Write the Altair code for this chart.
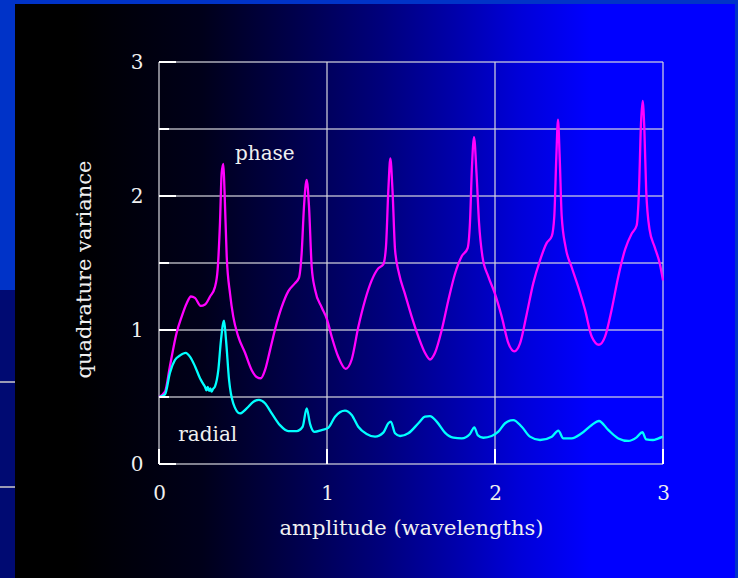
import altair as alt
import pandas as pd

# ---------------- data ----------------
phase_x = [0, 0.036, 0.065, 0.105, 0.135, 0.165, 0.19, 0.214, 0.248, 0.274,
           0.304, 0.333, 0.349, 0.363, 0.373, 0.383, 0.39, 0.403, 0.423, 0.442,
           0.472, 0.512, 0.552, 0.581, 0.607, 0.631, 0.661, 0.69, 0.73, 0.77,
           0.81, 0.833, 0.849, 0.863, 0.879, 0.893, 0.909, 0.929, 0.968, 1.0,
           1.028, 1.067, 1.111, 1.147, 1.186, 1.226, 1.266, 1.305, 1.335, 1.351,
           1.365, 1.377, 1.39, 1.405, 1.429, 1.464, 1.504, 1.544, 1.583, 1.613,
           1.643, 1.683, 1.722, 1.762, 1.802, 1.837, 1.851, 1.863, 1.875, 1.89,
           1.905, 1.925, 1.96, 2.0, 2.04, 2.08, 2.115, 2.149, 2.189, 2.228,
           2.268, 2.308, 2.338, 2.353, 2.365, 2.375, 2.385, 2.397, 2.42, 2.456,
           2.496, 2.536, 2.576, 2.619, 2.655, 2.694, 2.734, 2.774, 2.814, 2.843,
           2.857, 2.869, 2.879, 2.889, 2.90, 2.92, 2.95, 2.98, 3.0]
phase_y = [0.5, 0.54, 0.73, 0.98, 1.10, 1.20, 1.25, 1.24, 1.18, 1.19,
           1.25, 1.32, 1.45, 1.80, 2.17, 2.24, 2.04, 1.55, 1.27, 1.10,
           0.95, 0.83, 0.70, 0.65, 0.64, 0.70, 0.85, 1.0, 1.17, 1.29,
           1.35, 1.39, 1.57, 1.92, 2.12, 1.92, 1.47, 1.30, 1.17, 1.08,
           0.95, 0.80, 0.71, 0.78, 1.02, 1.22, 1.37, 1.46, 1.49, 1.62,
           2.04, 2.28, 2.04, 1.60, 1.42, 1.27, 1.10, 0.95, 0.83, 0.78,
           0.83, 1.0, 1.22, 1.42, 1.55, 1.61, 1.80, 2.22, 2.44, 2.17,
           1.80, 1.55, 1.40, 1.27, 1.10, 0.90, 0.84, 0.90, 1.12, 1.35,
           1.52, 1.65, 1.70, 1.85, 2.29, 2.57, 2.29, 1.85, 1.62, 1.47,
           1.32, 1.15, 0.95, 0.89, 0.95, 1.15, 1.40, 1.60, 1.72, 1.78,
           2.04, 2.54, 2.71, 2.50, 2.04, 1.75, 1.62, 1.50, 1.37]

radial_x = [0, 0.036, 0.065, 0.095, 0.125, 0.159, 0.185, 0.214, 0.244, 0.262,
            0.274, 0.282, 0.29, 0.298, 0.306, 0.313, 0.322, 0.333, 0.353, 0.369,
            0.387, 0.399, 0.417, 0.442, 0.482, 0.522,
            0.562, 0.595, 0.631, 0.671, 0.72, 0.77, 0.82, 0.855, 0.879, 0.899,
            0.925, 0.968, 1.008, 1.048, 1.107, 1.147, 1.186, 1.236, 1.286, 1.335,
            1.365, 1.38, 1.405, 1.435, 1.484, 1.544, 1.583, 1.613, 1.653, 1.702,
            1.752, 1.802, 1.851, 1.877, 1.897, 1.93, 1.98, 2.02, 2.06, 2.109,
            2.159, 2.208, 2.268, 2.338, 2.377, 2.407, 2.456, 2.516, 2.576, 2.619,
            2.674, 2.734, 2.794, 2.843, 2.877, 2.90, 2.94, 2.97, 3.0]
radial_y = [0.5, 0.52, 0.68, 0.776, 0.81, 0.83, 0.80, 0.73, 0.64, 0.60,
            0.575, 0.55, 0.575, 0.545, 0.565, 0.54, 0.56, 0.577, 0.70, 0.925,
            1.07, 0.925, 0.627, 0.453, 0.378, 0.415,
            0.465, 0.478, 0.453, 0.378, 0.29, 0.246, 0.246, 0.278, 0.415, 0.30,
            0.24, 0.253, 0.27, 0.353, 0.398, 0.366, 0.278, 0.224, 0.204, 0.234,
            0.304, 0.316, 0.229, 0.209, 0.229, 0.304, 0.353, 0.358, 0.316, 0.234,
            0.196, 0.191, 0.224, 0.274, 0.216, 0.196, 0.209, 0.241, 0.304, 0.328,
            0.278, 0.204, 0.179, 0.204, 0.249, 0.191, 0.191, 0.229, 0.291, 0.321,
            0.254, 0.191, 0.172, 0.199, 0.237, 0.184, 0.179, 0.19, 0.204]

series_names = ["phase", "radial"]
series_colors = ["#ff00ff", "#00ffff"]

label_text = ["phase", "radial"]
label_x = [0.63, 0.29]
label_y = [2.31, 0.22]

x_ticks = [0, 1, 2, 3]
y_ticks = [0, 1, 2, 3]
y_minor = [0.5, 1.5, 2.5]
x_grid = [0, 1, 2, 3]
y_grid = [0, 0.5, 1, 1.5, 2, 2.5, 3]

FONT = "DejaVu Serif"
TXT = "#f0f0f0"
W, H = 504, 402
PL, PT, PR, PB = 159, 62, 75, 114

curves = pd.concat([
    pd.DataFrame({"x": phase_x, "y": phase_y, "series": "phase", "order": range(len(phase_x))}),
    pd.DataFrame({"x": radial_x, "y": radial_y, "series": "radial", "order": range(len(radial_x))}),
])

xs = alt.Scale(domain=[0, 3], nice=False, zero=False)
ys = alt.Scale(domain=[0, 3], nice=False, zero=False)
x_axis = alt.Axis(values=x_ticks, format="d", title="amplitude (wavelengths)",
                  grid=False, domain=False, ticks=False, labelPadding=19,
                  labelFlush=False, titlePadding=14, zindex=1)
y_axis = alt.Axis(values=y_ticks, format="d", title="quadrature variance",
                  grid=False, domain=False, ticks=False, labelPadding=16,
                  labelFlush=False, titlePadding=36, titleY=207, zindex=1)


def X(field):
    return alt.X(field, type="quantitative", scale=xs, axis=x_axis)


def Y(field):
    return alt.Y(field, type="quantitative", scale=ys, axis=y_axis)


gradient = {
    "gradient": "linear", "x1": 0, "y1": 0, "x2": 1, "y2": 0,
    "stops": [
        {"offset": 0.0, "color": "#000000"},
        {"offset": 0.08, "color": "#000000"},
        {"offset": 0.26, "color": "#00001a"},
        {"offset": 0.38, "color": "#000048"},
        {"offset": 0.51, "color": "#00007c"},
        {"offset": 0.61, "color": "#0000aa"},
        {"offset": 0.70, "color": "#0000d8"},
        {"offset": 0.80, "color": "#0000ff"},
        {"offset": 1.0, "color": "#0000ff"},
    ],
}
one = alt.Data(values=[{"a": 1}])

bg = alt.Chart(one).mark_rect(color=gradient).encode(
    x=alt.value(15 - PL), x2=alt.value(735 - PL),
    y=alt.value(4 - PT), y2=alt.value(578 - PT))

strip = alt.Chart(one).mark_rect(color="#000a72").encode(
    x=alt.value(-PL), x2=alt.value(15 - PL),
    y=alt.value(290 - PT), y2=alt.value(578 - PT))
strip_line1 = alt.Chart(one).mark_rule(color="#9a9ab4", strokeWidth=2).encode(
    x=alt.value(-PL), x2=alt.value(15 - PL), y=alt.value(382 - PT))
strip_line2 = alt.Chart(one).mark_rule(color="#9a9ab4", strokeWidth=2).encode(
    x=alt.value(-PL), x2=alt.value(15 - PL), y=alt.value(487 - PT))

grid_h = alt.Chart(pd.DataFrame({"y": y_grid})).mark_rule(
    color="#d8d8e0", opacity=0.8, strokeWidth=1.5).encode(
    y=Y("y"), x=alt.value(0), x2=alt.value(W))
grid_v = alt.Chart(pd.DataFrame({"x": x_grid})).mark_rule(
    color="#d8d8e0", opacity=0.8, strokeWidth=1.5).encode(
    x=X("x"), y=alt.value(0), y2=alt.value(H))

tick_y = alt.Chart(pd.DataFrame({"y": y_ticks})).mark_rule(color="#ffffff", strokeWidth=2).encode(
    y=Y("y"), x=alt.value(0), x2=alt.value(17))
tick_ym = alt.Chart(pd.DataFrame({"y": y_minor})).mark_rule(color="#ffffff", strokeWidth=2).encode(
    y=Y("y"), x=alt.value(0), x2=alt.value(10))
tick_x = alt.Chart(pd.DataFrame({"x": x_ticks})).mark_rule(color="#ffffff", strokeWidth=2).encode(
    x=X("x"), y=alt.value(H), y2=alt.value(H - 15))

lines = alt.Chart(curves).mark_line(strokeWidth=2.3, interpolate="monotone").encode(
    x=X("x"), y=Y("y"),
    color=alt.Color("series:N", scale=alt.Scale(domain=series_names, range=series_colors), legend=None),
    order="order:Q",
)

labels = alt.Chart(pd.DataFrame({"t": label_text, "x": label_x, "y": label_y})).mark_text(
    font=FONT, fontSize=20, color=TXT, align="center", baseline="middle").encode(
    x=X("x"), y=Y("y"), text="t:N")

chart = alt.layer(bg, strip, strip_line1, strip_line2, grid_h, grid_v, lines,
                  tick_y, tick_ym, tick_x, labels).properties(
    width=W, height=H,
    padding={"left": PL, "top": PT, "right": PR, "bottom": PB},
    autosize=alt.AutoSizeParams(type="none"),
    background="#0033c8",
).configure_view(stroke=None).configure_axis(
    labelFont=FONT, titleFont=FONT, labelFontSize=20, titleFontSize=21,
    labelColor=TXT, titleColor=TXT, titleFontWeight="normal",
)

chart.save("out.html", embed_options={"renderer": "svg", "actions": False})
